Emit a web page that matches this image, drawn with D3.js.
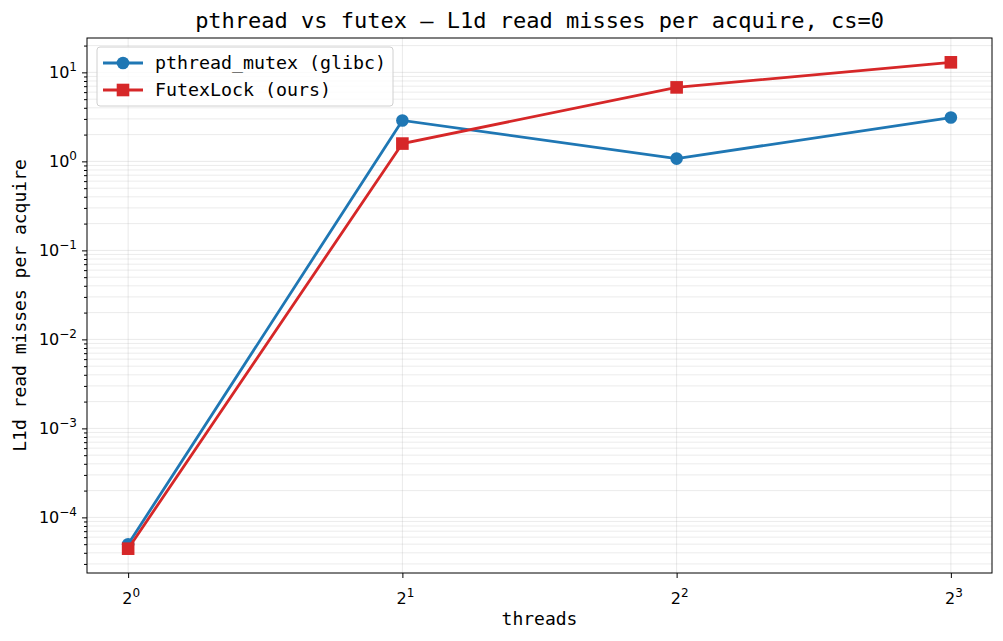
<!DOCTYPE html>
<html>
<head>
<meta charset="utf-8">
<script src="https://cdn.jsdelivr.net/npm/d3@7"></script>
<style>
  body { margin: 0; background: #fff; }
  svg { display: block; }
  .mono { font-family: "DejaVu Sans Mono", monospace; fill: #000; }
  .tick-label { font-family: "DejaVu Sans", sans-serif; font-size: 16px; fill: #000; }
</style>
</head>
<body>
<div id="chart"></div>
<script>
const threads = [1, 2, 4, 8];
const pthreadMisses = [5.0e-5, 2.88, 1.075, 3.11];
const futexMisses = [4.45e-5, 1.585, 6.78, 12.97];
const seriesNames = ["pthread_mutex (glibc)", "FutexLock (ours)"];
const xTickExps = [0, 1, 2, 3];
const yTickExps = [-4, -3, -2, -1, 0, 1];

const W = 1003, H = 641;
const M = { top: 38, right: 11, bottom: 68, left: 87 };
const innerW = W - M.left - M.right;
const innerH = H - M.top - M.bottom;

const svg = d3.select("#chart").append("svg")
  .attr("width", W).attr("height", H);

const g = svg.append("g")
  .attr("transform", `translate(${M.left},${M.top})`);

// matplotlib-style 5% margins in log space
const lx = threads.map(Math.log2);
const xPad = (d3.max(lx) - d3.min(lx)) * 0.05;
const x = d3.scaleLog().base(2)
  .domain([Math.pow(2, d3.min(lx) - xPad), Math.pow(2, d3.max(lx) + xPad)])
  .range([0, innerW]);

const allY = pthreadMisses.concat(futexMisses).map(Math.log10);
const yPad = (d3.max(allY) - d3.min(allY)) * 0.05;
const y = d3.scaleLog()
  .domain([Math.pow(10, d3.min(allY) - yPad), Math.pow(10, d3.max(allY) + yPad)])
  .range([innerH, 0]);

// minor ticks
const minorY = [];
for (let e = -5; e <= 1; e++) {
  for (let k = 2; k <= 9; k++) {
    const v = k * Math.pow(10, e);
    if (v >= y.domain()[0] && v <= y.domain()[1]) minorY.push(v);
  }
}
const majorY = yTickExps.map(e => Math.pow(10, e));
const majorX = xTickExps.map(e => Math.pow(2, e));

// grid
g.append("g").selectAll("line")
  .data(minorY).join("line")
  .attr("x1", 0).attr("x2", innerW)
  .attr("y1", d => y(d)).attr("y2", d => y(d))
  .attr("stroke", "#b0b0b0").attr("stroke-opacity", 0.3).attr("stroke-width", 0.8);

g.append("g").selectAll("line")
  .data(majorY).join("line")
  .attr("x1", 0).attr("x2", innerW)
  .attr("y1", d => y(d)).attr("y2", d => y(d))
  .attr("stroke", "#b0b0b0").attr("stroke-opacity", 0.35).attr("stroke-width", 0.8);

g.append("g").selectAll("line")
  .data(majorX).join("line")
  .attr("y1", 0).attr("y2", innerH)
  .attr("x1", d => x(d)).attr("x2", d => x(d))
  .attr("stroke", "#b0b0b0").attr("stroke-opacity", 0.35).attr("stroke-width", 0.8);

// axes
const yAxis = g.append("g")
  .call(d3.axisLeft(y).tickValues(majorY).tickSize(5).tickFormat(""));
yAxis.select(".domain").remove();
g.append("g")
  .call(d3.axisLeft(y).tickValues(minorY).tickSize(3).tickFormat(""))
  .select(".domain").remove();

const xAxis = g.append("g")
  .attr("transform", `translate(0,${innerH})`)
  .call(d3.axisBottom(x).tickValues(majorX).tickSize(5).tickFormat(""));
xAxis.select(".domain").remove();

g.selectAll(".tick line").attr("stroke", "#000").attr("stroke-width", 1);

// tick labels with superscripts
yTickExps.forEach(e => {
  const t = g.append("text").attr("class", "tick-label")
    .attr("x", -10).attr("y", y(Math.pow(10, e)) + 6)
    .attr("text-anchor", "end");
  t.append("tspan").text("10");
  t.append("tspan").attr("dy", -7).attr("font-size", 12)
    .text(e < 0 ? "\u2212" + Math.abs(e) : String(e));
});
xTickExps.forEach(e => {
  const t = g.append("text").attr("class", "tick-label")
    .attr("x", x(Math.pow(2, e)) + 3).attr("y", innerH + 31)
    .attr("text-anchor", "middle");
  t.append("tspan").text("2");
  t.append("tspan").attr("dy", -7).attr("font-size", 12).text(String(e));
});

// frame
g.append("rect")
  .attr("width", innerW).attr("height", innerH)
  .attr("fill", "none").attr("stroke", "#000").attr("stroke-width", 1);

// series
const series = [
  { name: seriesNames[0], values: pthreadMisses, color: "#1f77b4", marker: "circle" },
  { name: seriesNames[1], values: futexMisses, color: "#d62728", marker: "square" }
];

const line = d3.line()
  .x((d, i) => x(threads[i]))
  .y(d => y(d));

function drawMarker(sel, s, cx, cy) {
  if (s.marker === "circle") {
    sel.append("circle").attr("cx", cx).attr("cy", cy).attr("r", 6.3)
      .attr("fill", s.color);
  } else {
    sel.append("rect").attr("x", cx - 6.3).attr("y", cy - 6.3)
      .attr("width", 12.6).attr("height", 12.6).attr("fill", s.color);
  }
}

series.forEach(s => {
  g.append("path")
    .datum(s.values)
    .attr("d", line)
    .attr("fill", "none")
    .attr("stroke", s.color)
    .attr("stroke-width", 2.8);
  const mg = g.append("g");
  s.values.forEach((v, i) => drawMarker(mg, s, x(threads[i]), y(v)));
});

// legend
const leg = g.append("g").attr("transform", "translate(10,9)");
leg.append("rect")
  .attr("width", 296).attr("height", 59).attr("rx", 3)
  .attr("fill", "#fff").attr("fill-opacity", 0.8)
  .attr("stroke", "#d0d0d0").attr("stroke-width", 1);
series.forEach((s, i) => {
  const ly = 16 + i * 27;
  leg.append("line")
    .attr("x1", 6).attr("x2", 46).attr("y1", ly).attr("y2", ly)
    .attr("stroke", s.color).attr("stroke-width", 2.8);
  drawMarker(leg, s, 26, ly);
  leg.append("text").attr("class", "mono")
    .attr("x", 58).attr("y", ly + 6)
    .attr("font-size", 18.3)
    .text(s.name);
});

// title and labels
svg.append("text").attr("class", "mono")
  .attr("x", M.left + innerW / 2).attr("y", 28)
  .attr("text-anchor", "middle").attr("font-size", 22)
  .text("pthread vs futex \u2014 L1d read misses per acquire, cs=0");

svg.append("text").attr("class", "mono")
  .attr("x", M.left + innerW / 2).attr("y", 625)
  .attr("text-anchor", "middle").attr("font-size", 18)
  .text("threads");

svg.append("text").attr("class", "mono")
  .attr("transform", `translate(26,${M.top + innerH / 2}) rotate(-90)`)
  .attr("text-anchor", "middle").attr("font-size", 18)
  .text("L1d read misses per acquire");
</script>
</body>
</html>
